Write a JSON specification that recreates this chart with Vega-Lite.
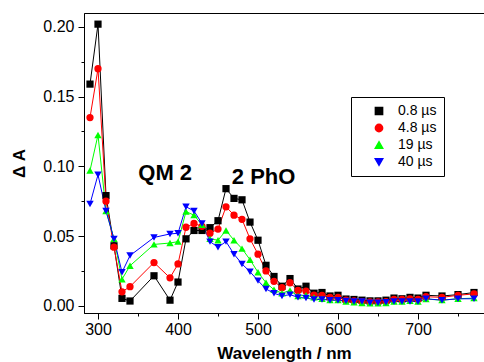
{
  "$schema": "https://vega.github.io/schema/vega-lite/v6.json",
  "autosize": {"type": "none"},
  "padding": {"left": 84, "top": 13, "right": 0, "bottom": 49},
  "width": 400,
  "height": 300,
  "config": {
    "font": "Liberation Sans",
    "view": {"stroke": "#000000", "strokeWidth": 1},
    "axis": {"grid": false, "domainColor": "#000000", "tickColor": "#000000", "labelColor": "#000000", "titleColor": "#000000", "labelFont": "Liberation Sans", "titleFont": "Liberation Sans"}
  },
  "data": {
    "values": [
      {"wl":290,"series":"0.8 µs","dA":0.159},{"wl":300,"series":"0.8 µs","dA":0.202},{"wl":310,"series":"0.8 µs","dA":0.079},{"wl":320,"series":"0.8 µs","dA":0.043},{"wl":330,"series":"0.8 µs","dA":0.0053},{"wl":340,"series":"0.8 µs","dA":0.0034},{"wl":370,"series":"0.8 µs","dA":0.0215},{"wl":390,"series":"0.8 µs","dA":0.004},{"wl":400,"series":"0.8 µs","dA":0.017},{"wl":410,"series":"0.8 µs","dA":0.048},{"wl":420,"series":"0.8 µs","dA":0.054},{"wl":430,"series":"0.8 µs","dA":0.054},{"wl":440,"series":"0.8 µs","dA":0.056},{"wl":450,"series":"0.8 µs","dA":0.061},{"wl":460,"series":"0.8 µs","dA":0.084},{"wl":470,"series":"0.8 µs","dA":0.077},{"wl":480,"series":"0.8 µs","dA":0.076},{"wl":490,"series":"0.8 µs","dA":0.060},{"wl":500,"series":"0.8 µs","dA":0.047},{"wl":510,"series":"0.8 µs","dA":0.029},{"wl":520,"series":"0.8 µs","dA":0.021},{"wl":530,"series":"0.8 µs","dA":0.014},{"wl":540,"series":"0.8 µs","dA":0.0195},{"wl":550,"series":"0.8 µs","dA":0.012},{"wl":560,"series":"0.8 µs","dA":0.014},{"wl":570,"series":"0.8 µs","dA":0.009},{"wl":580,"series":"0.8 µs","dA":0.0095},{"wl":590,"series":"0.8 µs","dA":0.007},{"wl":600,"series":"0.8 µs","dA":0.0075},{"wl":610,"series":"0.8 µs","dA":0.0048},{"wl":620,"series":"0.8 µs","dA":0.0045},{"wl":630,"series":"0.8 µs","dA":0.004},{"wl":640,"series":"0.8 µs","dA":0.0035},{"wl":650,"series":"0.8 µs","dA":0.0035},{"wl":660,"series":"0.8 µs","dA":0.004},{"wl":670,"series":"0.8 µs","dA":0.0055},{"wl":680,"series":"0.8 µs","dA":0.005},{"wl":690,"series":"0.8 µs","dA":0.006},{"wl":700,"series":"0.8 µs","dA":0.0055},{"wl":710,"series":"0.8 µs","dA":0.0075},{"wl":730,"series":"0.8 µs","dA":0.007},{"wl":750,"series":"0.8 µs","dA":0.008},{"wl":770,"series":"0.8 µs","dA":0.0095},
      {"wl":290,"series":"4.8 µs","dA":0.135},{"wl":300,"series":"4.8 µs","dA":0.170},{"wl":310,"series":"4.8 µs","dA":0.075},{"wl":320,"series":"4.8 µs","dA":0.042},{"wl":330,"series":"4.8 µs","dA":0.010},{"wl":340,"series":"4.8 µs","dA":0.0137},{"wl":370,"series":"4.8 µs","dA":0.031},{"wl":390,"series":"4.8 µs","dA":0.020},{"wl":400,"series":"4.8 µs","dA":0.030},{"wl":410,"series":"4.8 µs","dA":0.0563},{"wl":420,"series":"4.8 µs","dA":0.059},{"wl":430,"series":"4.8 µs","dA":0.057},{"wl":440,"series":"4.8 µs","dA":0.052},{"wl":450,"series":"4.8 µs","dA":0.055},{"wl":460,"series":"4.8 µs","dA":0.071},{"wl":470,"series":"4.8 µs","dA":0.065},{"wl":480,"series":"4.8 µs","dA":0.062},{"wl":490,"series":"4.8 µs","dA":0.048},{"wl":500,"series":"4.8 µs","dA":0.037},{"wl":510,"series":"4.8 µs","dA":0.025},{"wl":520,"series":"4.8 µs","dA":0.0175},{"wl":530,"series":"4.8 µs","dA":0.013},{"wl":540,"series":"4.8 µs","dA":0.0165},{"wl":550,"series":"4.8 µs","dA":0.011},{"wl":560,"series":"4.8 µs","dA":0.0105},{"wl":570,"series":"4.8 µs","dA":0.0077},{"wl":580,"series":"4.8 µs","dA":0.0075},{"wl":590,"series":"4.8 µs","dA":0.006},{"wl":600,"series":"4.8 µs","dA":0.006},{"wl":610,"series":"4.8 µs","dA":0.004},{"wl":620,"series":"4.8 µs","dA":0.0035},{"wl":630,"series":"4.8 µs","dA":0.003},{"wl":640,"series":"4.8 µs","dA":0.0028},{"wl":650,"series":"4.8 µs","dA":0.0028},{"wl":660,"series":"4.8 µs","dA":0.003},{"wl":670,"series":"4.8 µs","dA":0.0045},{"wl":680,"series":"4.8 µs","dA":0.0045},{"wl":690,"series":"4.8 µs","dA":0.005},{"wl":700,"series":"4.8 µs","dA":0.0045},{"wl":710,"series":"4.8 µs","dA":0.0065},{"wl":730,"series":"4.8 µs","dA":0.006},{"wl":750,"series":"4.8 µs","dA":0.0075},{"wl":770,"series":"4.8 µs","dA":0.0085},
      {"wl":290,"series":"19 µs","dA":0.097},{"wl":300,"series":"19 µs","dA":0.1225},{"wl":310,"series":"19 µs","dA":0.068},{"wl":320,"series":"19 µs","dA":0.048},{"wl":330,"series":"19 µs","dA":0.019},{"wl":340,"series":"19 µs","dA":0.0287},{"wl":370,"series":"19 µs","dA":0.044},{"wl":390,"series":"19 µs","dA":0.045},{"wl":400,"series":"19 µs","dA":0.046},{"wl":410,"series":"19 µs","dA":0.0675},{"wl":420,"series":"19 µs","dA":0.065},{"wl":430,"series":"19 µs","dA":0.058},{"wl":440,"series":"19 µs","dA":0.048},{"wl":450,"series":"19 µs","dA":0.047},{"wl":460,"series":"19 µs","dA":0.054},{"wl":470,"series":"19 µs","dA":0.047},{"wl":480,"series":"19 µs","dA":0.041},{"wl":490,"series":"19 µs","dA":0.033},{"wl":500,"series":"19 µs","dA":0.024},{"wl":510,"series":"19 µs","dA":0.0165},{"wl":520,"series":"19 µs","dA":0.0115},{"wl":530,"series":"19 µs","dA":0.009},{"wl":540,"series":"19 µs","dA":0.011},{"wl":550,"series":"19 µs","dA":0.007},{"wl":560,"series":"19 µs","dA":0.0075},{"wl":570,"series":"19 µs","dA":0.006},{"wl":580,"series":"19 µs","dA":0.005},{"wl":590,"series":"19 µs","dA":0.004},{"wl":600,"series":"19 µs","dA":0.004},{"wl":610,"series":"19 µs","dA":0.003},{"wl":620,"series":"19 µs","dA":0.0025},{"wl":630,"series":"19 µs","dA":0.002},{"wl":640,"series":"19 µs","dA":0.0018},{"wl":650,"series":"19 µs","dA":0.0018},{"wl":660,"series":"19 µs","dA":0.002},{"wl":670,"series":"19 µs","dA":0.003},{"wl":680,"series":"19 µs","dA":0.003},{"wl":690,"series":"19 µs","dA":0.0035},{"wl":700,"series":"19 µs","dA":0.003},{"wl":710,"series":"19 µs","dA":0.0048},{"wl":730,"series":"19 µs","dA":0.004},{"wl":750,"series":"19 µs","dA":0.005},{"wl":770,"series":"19 µs","dA":0.0055},
      {"wl":290,"series":"40 µs","dA":0.073},{"wl":300,"series":"40 µs","dA":0.094},{"wl":310,"series":"40 µs","dA":0.068},{"wl":320,"series":"40 µs","dA":0.048},{"wl":330,"series":"40 µs","dA":0.024},{"wl":340,"series":"40 µs","dA":0.036},{"wl":370,"series":"40 µs","dA":0.049},{"wl":390,"series":"40 µs","dA":0.0515},{"wl":400,"series":"40 µs","dA":0.052},{"wl":410,"series":"40 µs","dA":0.071},{"wl":420,"series":"40 µs","dA":0.068},{"wl":430,"series":"40 µs","dA":0.059},{"wl":440,"series":"40 µs","dA":0.046},{"wl":450,"series":"40 µs","dA":0.042},{"wl":460,"series":"40 µs","dA":0.046},{"wl":470,"series":"40 µs","dA":0.037},{"wl":480,"series":"40 µs","dA":0.030},{"wl":490,"series":"40 µs","dA":0.0244},{"wl":500,"series":"40 µs","dA":0.018},{"wl":510,"series":"40 µs","dA":0.012},{"wl":520,"series":"40 µs","dA":0.009},{"wl":530,"series":"40 µs","dA":0.007},{"wl":540,"series":"40 µs","dA":0.008},{"wl":550,"series":"40 µs","dA":0.006},{"wl":560,"series":"40 µs","dA":0.0055},{"wl":570,"series":"40 µs","dA":0.0045},{"wl":580,"series":"40 µs","dA":0.0045},{"wl":590,"series":"40 µs","dA":0.004},{"wl":600,"series":"40 µs","dA":0.004},{"wl":610,"series":"40 µs","dA":0.0035},{"wl":620,"series":"40 µs","dA":0.003},{"wl":630,"series":"40 µs","dA":0.003},{"wl":640,"series":"40 µs","dA":0.0022},{"wl":650,"series":"40 µs","dA":0.0022},{"wl":660,"series":"40 µs","dA":0.0025},{"wl":670,"series":"40 µs","dA":0.003},{"wl":680,"series":"40 µs","dA":0.003},{"wl":690,"series":"40 µs","dA":0.003},{"wl":700,"series":"40 µs","dA":0.003},{"wl":710,"series":"40 µs","dA":0.005},{"wl":730,"series":"40 µs","dA":0.004},{"wl":750,"series":"40 µs","dA":0.005},{"wl":770,"series":"40 µs","dA":0.005}
    ]
  },
  "encoding": {
    "x": {
      "field": "wl", "type": "quantitative",
      "scale": {"domain": [282.5, 782.5], "nice": false, "zero": false},
      "axis": {
        "title": "Wavelength / nm", "titleFontSize": 17, "titleFontWeight": "bold", "titlePadding": 8,
        "values": [300, 350, 400, 450, 500, 550, 600, 650, 700, 750],
        "labelExpr": "datum.value % 100 === 0 ? datum.label : ''",
        "labelFontSize": 16, "labelPadding": 2,
        "tickSize": {"condition": {"test": "datum.value % 100 === 0", "value": 6}, "value": 3}
      }
    },
    "y": {
      "field": "dA", "type": "quantitative",
      "scale": {"domain": [-0.0052, 0.21], "nice": false, "zero": false},
      "axis": {
        "title": "Δ A", "titleFontSize": 17, "titleFontWeight": "bold", "titlePadding": 14,
        "values": [0, 0.025, 0.05, 0.075, 0.1, 0.125, 0.15, 0.175, 0.2],
        "labelExpr": "round(datum.value * 1000) % 50 === 0 ? format(datum.value, '.2f') : ''",
        "labelFontSize": 16, "labelPadding": 4,
        "tickSize": {"condition": {"test": "round(datum.value * 1000) % 50 === 0", "value": 6}, "value": 3}
      }
    },
    "color": {
      "field": "series", "type": "nominal",
      "scale": {"domain": ["0.8 µs", "4.8 µs", "19 µs", "40 µs"], "range": ["#000000", "#ff0000", "#00ff00", "#0000ff"]},
      "legend": {
        "orient": "none", "legendX": 267, "legendY": 84, "title": null,
        "strokeColor": "#000000", "fillColor": "#ffffff", "padding": 7,
        "labelFontSize": 14, "labelColor": "#000000", "labelOffset": 12,
        "symbolSize": 70, "rowPadding": 3, "symbolOpacity": 1, "symbolOffset": 14
      }
    }
  },
  "layer": [
    {
      "mark": {"type": "line", "strokeWidth": 1}
    },
    {
      "mark": {"type": "point", "filled": true, "opacity": 1},
      "encoding": {
        "shape": {"field": "series", "type": "nominal", "scale": {"domain": ["0.8 µs", "4.8 µs", "19 µs", "40 µs"], "range": ["square", "circle", "triangle-up", "triangle-down"]}, "legend": null},
        "size": {"field": "series", "type": "nominal", "scale": {"domain": ["0.8 µs", "4.8 µs", "19 µs", "40 µs"], "range": [52, 55, 85, 85]}, "legend": null}
      }
    },
    {
      "data": {"values": [{"wl": 384, "dA": 0.095, "label": "QM 2"}, {"wl": 507, "dA": 0.0927, "label": "2 PhO"}]},
      "mark": {"type": "text", "fontSize": 22, "fontWeight": "bold", "align": "center", "baseline": "middle", "color": "#000000"},
      "encoding": {"text": {"field": "label"}, "color": {"value": "#000000"}}
    }
  ]
}
